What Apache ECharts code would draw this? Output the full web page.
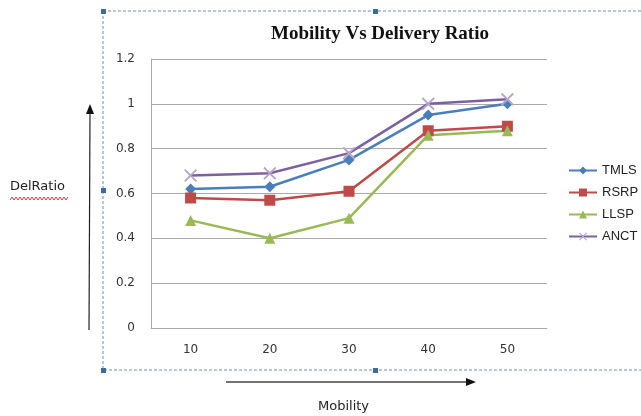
<!DOCTYPE html>
<html>
<head>
<meta charset="utf-8">
<script src="https://cdn.jsdelivr.net/npm/echarts@6/dist/echarts.min.js"></script>
<style>
html, body { margin: 0; padding: 0; background: #fff; }
#chart { width: 641px; height: 416px; }
</style>
</head>
<body>
<div id="chart"></div>
<script>
// Datos del gráfico
const mobility = ['10', '20', '30', '40', '50'];
const tmls = [0.62, 0.63, 0.75, 0.95, 1.0];
const rsrp = [0.58, 0.57, 0.61, 0.88, 0.90];
const llsp = [0.48, 0.40, 0.49, 0.86, 0.88];
const anct = [0.68, 0.69, 0.78, 1.0, 1.02];

const crossPath = 'path://M0,1L1,0L5,4L9,0L10,1L6,5L10,9L9,10L5,6L1,10L0,9L4,5Z';

const chart = echarts.init(document.getElementById('chart'));

// Marcas pequeñas del marco seleccionado
const handles = [[101, 9], [373, 9], [101, 188], [101, 368], [373, 368]].map(p => ({
    type: 'rect',
    shape: { x: p[0], y: p[1], width: 5, height: 5 },
    style: { fill: '#3E6A9E' }
}));

// Subrayado ondulado de "DelRatio"
const wave = [];
for (let x = 10; x <= 68; x += 2) wave.push([x, (x / 2) % 2 === 0 ? 197 : 200]);

function makeSeries(name, data, color, symbol, size) {
    return {
        name: name,
        type: 'line',
        data: data,
        symbol: symbol,
        symbolSize: size,
        lineStyle: { color: color, width: 2.5 },
        itemStyle: { color: color },
        z: 3
    };
}

chart.setOption({
    animation: false,
    title: {
        text: 'Mobility Vs Delivery Ratio',
        left: 375,
        textAlign: 'center',
        top: 20,
        textStyle: {
            fontFamily: 'Liberation Serif',
            fontWeight: 'bold',
            fontSize: 19,
            color: '#111'
        }
    },
    grid: { left: 151, top: 59, width: 396, height: 269 },
    legend: {
        orient: 'vertical',
        left: 563,
        top: 159,
        itemWidth: 28,
        itemHeight: 10,
        itemGap: 9,
        textStyle: { fontFamily: 'Liberation Sans', fontSize: 13, color: '#222' },
        data: ['TMLS', 'RSRP', 'LLSP', 'ANCT']
    },
    xAxis: {
        type: 'category',
        data: mobility,
        boundaryGap: true,
        axisLine: { lineStyle: { color: '#aaa' } },
        axisTick: { show: false },
        axisLabel: { fontFamily: 'DejaVu Sans', fontSize: 12, color: '#333', margin: 16 }
    },
    yAxis: {
        type: 'value',
        min: 0,
        max: 1.2,
        interval: 0.2,
        axisLine: { show: true, lineStyle: { color: '#aaa' } },
        axisTick: { show: false },
        splitLine: { lineStyle: { color: '#aaa' } },
        axisLabel: {
            fontFamily: 'DejaVu Sans', fontSize: 12, color: '#333', margin: 16,
            formatter: v => String(Math.round(v * 10) / 10)
        }
    },
    series: [
        makeSeries('TMLS', tmls, '#4A7EBB', 'diamond', 11),
        makeSeries('RSRP', rsrp, '#BE4B48', 'rect', 11),
        makeSeries('LLSP', llsp, '#98B954', 'triangle', 11),
        Object.assign(makeSeries('ANCT', anct, '#7D60A0', crossPath, 13), {
            itemStyle: { color: '#B5A5CC' }
        })
    ],
    graphic: [
        {
            type: 'rect',
            shape: { x: 103, y: 11, width: 560, height: 359 },
            style: { fill: 'none', stroke: '#6A8FBF', lineWidth: 1, lineDash: [3, 2] },
            z: 0
        },
        ...handles,
        {
            type: 'text',
            left: 10, top: 180,
            style: { text: 'DelRatio', font: '13px "DejaVu Sans"', fill: '#222' }
        },
        {
            type: 'polyline',
            shape: { points: wave },
            style: { stroke: '#D04040', lineWidth: 1, fill: 'none' }
        },
        {
            type: 'line',
            shape: { x1: 89, y1: 330, x2: 90, y2: 112 },
            style: { stroke: '#222', lineWidth: 1.2 }
        },
        {
            type: 'polygon',
            shape: { points: [[90, 104], [86, 114], [94, 114]] },
            style: { fill: '#111' }
        },
        {
            type: 'line',
            shape: { x1: 226, y1: 382, x2: 466, y2: 382 },
            style: { stroke: '#444', lineWidth: 1.5 }
        },
        {
            type: 'polygon',
            shape: { points: [[476, 382], [466, 378], [466, 386]] },
            style: { fill: '#111' }
        },
        {
            type: 'text',
            left: 318, top: 400,
            style: { text: 'Mobility', font: '13px "DejaVu Sans"', fill: '#222' }
        }
    ]
});
</script>
</body>
</html>
